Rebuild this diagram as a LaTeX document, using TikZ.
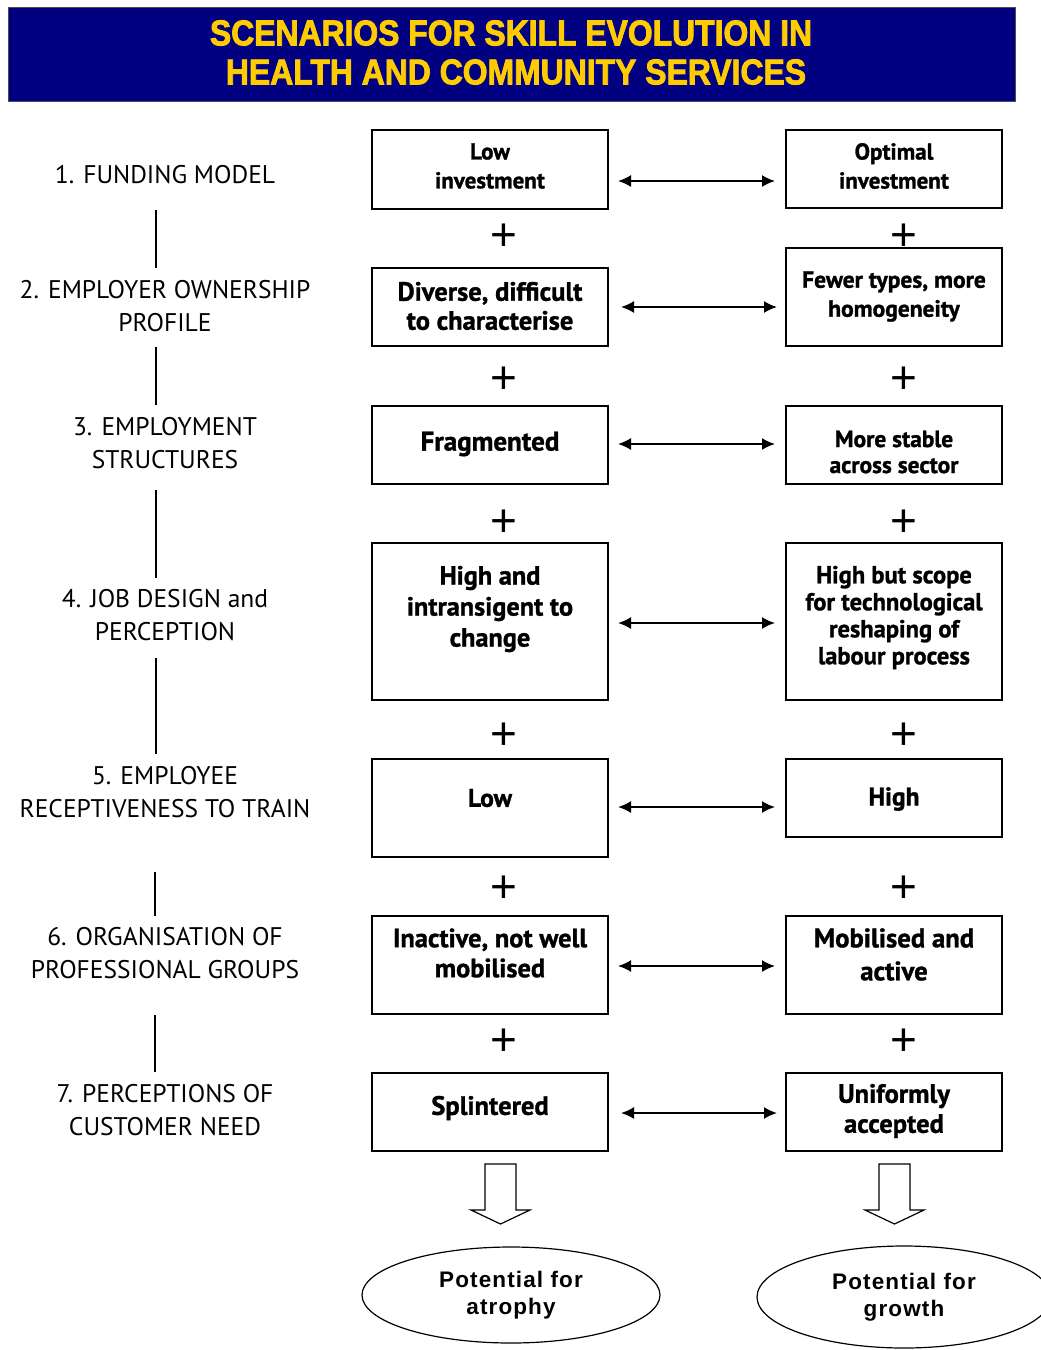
\documentclass[tikz,border=0pt]{standalone}
\usepackage{fontspec}
\setmainfont{PT Sans}[BoldFeatures={FakeBold=1.2}]
\newfontfamily\titlefont{Liberation Sans}[BoldFeatures={FakeBold=2.5}]
\newfontfamily\ellfont{Liberation Sans}[LetterSpace=5]
\newfontfamily\plusfont{Liberation Sans}
\usetikzlibrary{arrows.meta,shapes.geometric,calc}
\definecolor{navy}{HTML}{000080}
\definecolor{gold}{HTML}{FFCC00}
\begin{document}
\begin{tikzpicture}[x=1pt,y=-1pt,
  box/.style={draw,line width=1.4pt,align=center,inner sep=2pt,font=\bfseries},
  txt/.style={align=center,inner sep=1pt},
  lab/.style={align=center,font=\fontsize{25.5}{33}\selectfont},
  pl/.style={font=\plusfont\fontsize{46}{46}\selectfont,inner sep=0pt},
  dbl/.style={{Latex[length=13pt,width=12pt]}-{Latex[length=13pt,width=12pt]},line width=1.8pt},
  vline/.style={line width=1.3pt},
  ell/.style={draw,ellipse,line width=1.2pt,align=center,inner sep=0pt,font=\ellfont\bfseries\fontsize{22.5}{27}\selectfont},
  blk/.style={draw,line width=1.2pt,fill=white}]
\useasboundingbox (0,0) rectangle (1041,1350);
\fill[white] (0,0) rectangle (1041,1350);
% title
\node[draw=black!70,line width=1pt,fill=navy,minimum width=1007pt,minimum height=94pt,inner sep=0pt] (title) at (511.5,54) {};
\node[text=gold,inner sep=0pt] (t1) at (511,33) {\resizebox{602pt}{25pt}{\titlefont\bfseries SCENARIOS FOR SKILL EVOLUTION IN}};
\node[text=gold,inner sep=0pt] (t2) at (516,72) {\resizebox{580pt}{25pt}{\titlefont\bfseries HEALTH AND COMMUNITY SERVICES}};
% left labels
\node[lab] (a1) at (165,175) {1. FUNDING MODEL};
\node[lab] (a2) at (165,306) {2. EMPLOYER OWNERSHIP\\PROFILE};
\node[lab] (a3) at (165,443) {3. EMPLOYMENT\\STRUCTURES};
\node[lab] (a4) at (165,615) {4. JOB DESIGN and\\PERCEPTION};
\node[lab] (a5) at (165,792) {5. EMPLOYEE\\RECEPTIVENESS TO TRAIN};
\node[lab] (a6) at (165,953) {6. ORGANISATION OF\\PROFESSIONAL GROUPS};
\node[lab] (a7) at (165,1110) {7. PERCEPTIONS OF\\CUSTOMER NEED};
\draw[vline] (156,210) coordinate (v1a) -- (156,268) coordinate (v1b);
\draw[vline] (156,347) -- (156,405);
\draw[vline] (156,490) -- (156,578);
\draw[vline] (156,658) -- (156,754);
\draw[vline] (155,872) -- (155,916);
\draw[vline] (155,1015) -- (155,1072);
% boxes left
\node[box,minimum width=236pt,minimum height=79pt] (L1) at (490,169.5) {};
\node[txt,font=\bfseries\fontsize{23}{29}\selectfont] (L1t) at (490,166) {Low\\investment};
\node[box,minimum width=236pt,minimum height=78pt] (L2) at (490,307) {};
\node[txt,font=\bfseries\fontsize{26.5}{29}\selectfont] (L2t) at (490,306) {Diverse, difficult\\to characterise};
\node[box,minimum width=236pt,minimum height=78pt] (L3) at (490,445) {};
\node[txt,font=\bfseries\fontsize{27}{29}\selectfont] (L3t) at (490,444) {Fragmented};
\node[box,minimum width=236pt,minimum height=157pt] (L4) at (490,621.5) {};
\node[txt,font=\bfseries\fontsize{26.3}{31}\selectfont] (L4t) at (490,609) {High and\\intransigent to\\change};
\node[box,minimum width=236pt,minimum height=98pt] (L5) at (490,808) {};
\node[txt,font=\bfseries\fontsize{25.5}{29}\selectfont] (L5t) at (490,798) {Low};
\node[box,minimum width=236pt,minimum height=98pt] (L6) at (490,965) {};
\node[txt,font=\bfseries\fontsize{26.4}{30}\selectfont] (L6t) at (490,953) {Inactive, not well\\mobilised};
\node[box,minimum width=236pt,minimum height=78pt] (L7) at (490,1112) {};
\node[txt,font=\bfseries\fontsize{26.5}{29}\selectfont] (L7t) at (490,1108) {Splintered};
% boxes right
\node[box,minimum width=216pt,minimum height=78pt] (R1) at (894,169) {};
\node[txt,font=\bfseries\fontsize{23}{29}\selectfont] (R1t) at (894,166) {Optimal\\investment};
\node[box,minimum width=216pt,minimum height=98pt] (R2) at (894,297) {};
\node[txt,font=\bfseries\fontsize{23.5}{29}\selectfont] (R2t) at (894,296.5) {Fewer types, more\\homogeneity};
\node[box,minimum width=216pt,minimum height=78pt] (R3) at (894,445) {};
\node[txt,font=\bfseries\fontsize{23.4}{26}\selectfont] (R3t) at (894,452) {More stable\\across sector};
\node[box,minimum width=216pt,minimum height=157pt] (R4) at (894,621.5) {};
\node[txt,font=\bfseries\fontsize{24.5}{27}\selectfont] (R4t) at (894,617.5) {High but scope\\for technological\\reshaping of\\labour process};
\node[box,minimum width=216pt,minimum height=78pt] (R5) at (894,798) {};
\node[txt,font=\bfseries\fontsize{25.5}{29}\selectfont] (R5t) at (894,799) {High};
\node[box,minimum width=216pt,minimum height=98pt] (R6) at (894,965) {};
\node[txt,font=\bfseries\fontsize{26.7}{33}\selectfont] (R6t) at (894,954.5) {Mobilised and\\active};
\node[box,minimum width=216pt,minimum height=78pt] (R7) at (894,1112) {};
\node[txt,font=\bfseries\fontsize{26.5}{30}\selectfont] (R7t) at (894,1111) {Uniformly\\accepted};
% plus signs
\foreach \y/\n in {237/1,380/2,523/3,736/4,889/5,1042/6}{
  \node[pl] (pl\n) at (504,\y) {+};
  \node[pl] (pr\n) at (904,\y) {+};
}
% arrows
\draw[dbl] (618,181) coordinate (s1) -- (775,181);
\draw[dbl] (621,307) -- (777,307);
\draw[dbl] (618,444) -- (775,444);
\draw[dbl] (618,623) -- (775,623);
\draw[dbl] (618,807) -- (775,807);
\draw[dbl] (618,966) -- (775,966);
\draw[dbl] (621,1113) -- (777,1113);
% block arrows
\draw[blk] (485,1164) -- (516,1164) -- (516,1210) -- (530,1210) -- (500.5,1224) -- (471,1210) -- (485,1210) -- cycle;
\draw[blk] (879,1164) -- (910,1164) -- (910,1210) -- (924,1210) -- (894.5,1224) -- (865,1210) -- (879,1210) -- cycle;
% ellipses
\node[ell,minimum width=298pt,minimum height=96pt] (E1) at (511,1295) {Potential for\\atrophy};
\node[ell,minimum width=294pt,minimum height=102pt] (E2) at (904,1297) {Potential for\\growth};
\end{tikzpicture}
\end{document}
